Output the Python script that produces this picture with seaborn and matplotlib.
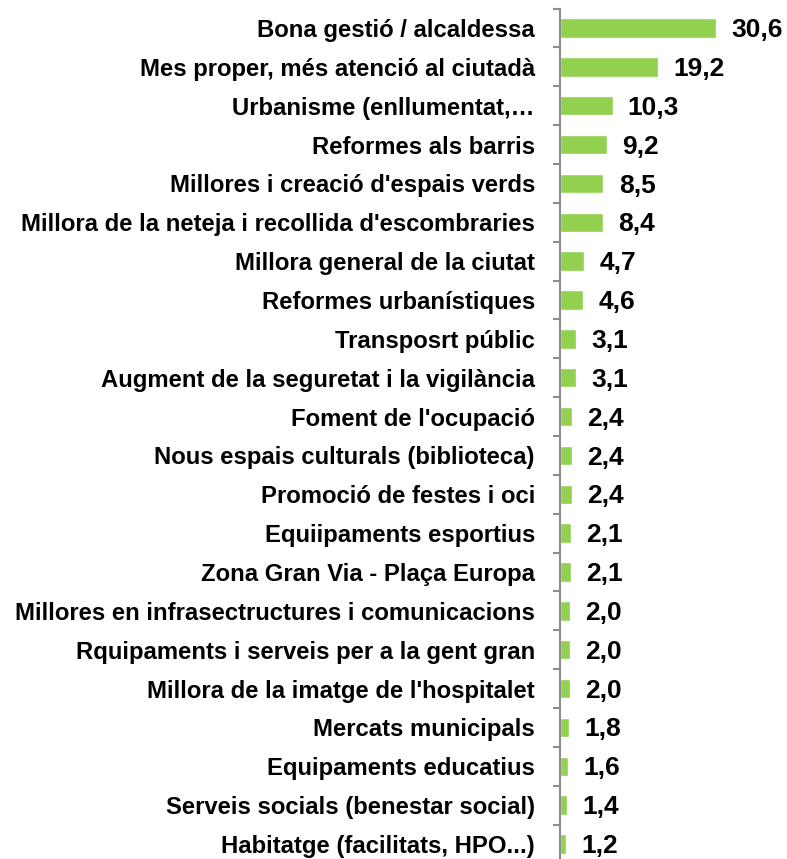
import matplotlib
matplotlib.use("Agg")
import matplotlib.pyplot as plt
import seaborn as sns
import pandas as pd
import numpy as np

categories = [
    "Bona gestió / alcaldessa",
    "Mes proper, més atenció al ciutadà",
    "Urbanisme (enllumentat,…",
    "Reformes als barris",
    "Millores i creació d'espais verds",
    "Millora de la neteja i recollida d'escombraries",
    "Millora general de la ciutat",
    "Reformes urbanístiques",
    "Transposrt públic",
    "Augment de la seguretat i la vigilància",
    "Foment de l'ocupació",
    "Nous espais culturals (biblioteca)",
    "Promoció de festes i oci",
    "Equiipaments esportius",
    "Zona Gran Via - Plaça Europa",
    "Millores en infrasectructures i comunicacions",
    "Rquipaments i serveis per a la gent gran",
    "Millora de la imatge de l'hospitalet",
    "Mercats municipals",
    "Equipaments educatius",
    "Serveis socials (benestar social)",
    "Habitatge (facilitats, HPO...)",
]
values = [30.6, 19.2, 10.3, 9.2, 8.5, 8.4, 4.7, 4.6, 3.1, 3.1, 2.4, 2.4, 2.4,
          2.1, 2.1, 2.0, 2.0, 2.0, 1.8, 1.6, 1.4, 1.2]

df = pd.DataFrame({"categoria": categories, "valor": values})

sns.set_theme(style="white")
plt.rcParams["font.family"] = ["Liberation Sans", "DejaVu Sans"]

W, H = 787, 859
fig = plt.figure(figsize=(W / 100, H / 100), dpi=100)
n = len(categories)
top_px, bot_px = 8.6, 863.4
ax = fig.add_axes([560 / W, (H - bot_px) / H, (W - 560) / W, (bot_px - top_px) / H])

sns.barplot(data=df, y="categoria", x="valor", orient="h", color="#92D050",
            width=0.5, saturation=1, ax=ax)

ax.set_xlim(0, (W - 560) / 5.1)
ax.set_ylim(n - 0.5, -0.5)
ax.set_xlabel("")
ax.set_ylabel("")
ax.set_xticks([])

for s in ["top", "right", "bottom"]:
    ax.spines[s].set_visible(False)
ax.spines["left"].set_color("#8c8c8c")
ax.spines["left"].set_linewidth(1.5)

ax.set_yticks(np.arange(n))
ax.set_yticklabels(categories, fontsize=17.2, fontweight="bold", color="black")
ax.tick_params(axis="y", which="major", left=False, length=0, pad=18)
ax.set_yticks(np.arange(n + 1) - 0.5, minor=True)
ax.tick_params(axis="y", which="minor", left=True, length=5, width=1.5,
               color="#8c8c8c", direction="out")

for i, v in enumerate(values):
    ax.annotate(f"{v:.1f}".replace(".", ","), xy=(v, i), xytext=(11, -1.5),
                textcoords="offset points", va="center", ha="left",
                fontsize=19, fontweight="bold", color="black")

fig.savefig("out.png", dpi=100)
